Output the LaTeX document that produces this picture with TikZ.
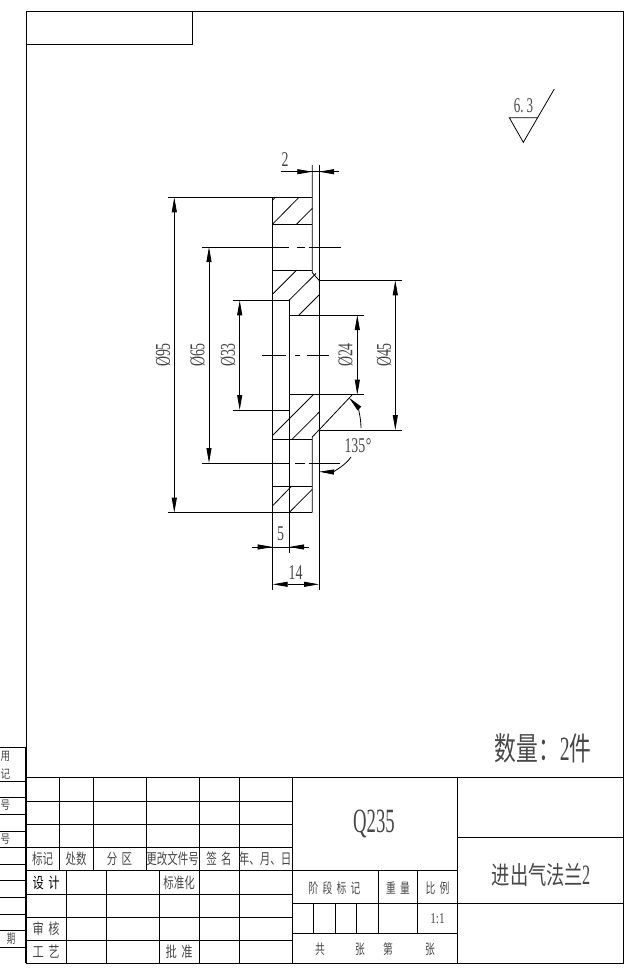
\documentclass[tikz,border=0pt]{standalone}
\usepackage{fontspec}
\usepackage{graphicx}
\setmainfont{Liberation Serif}
\newfontfamily\cjk{Noto Sans CJK SC}
\usetikzlibrary{arrows.meta}
\newcommand\lat[3]{{\fontsize{#1}{#1}\selectfont\scalebox{#2}[1]{#3}}}
\newcommand\han[3]{{\cjk\fontsize{#1}{#1}\selectfont\scalebox{#2}[1]{#3}}}
\tikzset{
  x=1pt,y=-1pt,
  every node/.style={inner sep=0pt,outer sep=0pt},
  ln/.style={line width=0.8pt,black},
  frm/.style={line width=0.9pt,black},
  soft/.style={text=black!72},
  tip/.style={-{Triangle[length=15pt,width=5pt]}},
  tips/.style={{Triangle[length=15pt,width=5pt]}-{Triangle[length=15pt,width=5pt]}},
}
\begin{document}
\begin{tikzpicture}[ln]
\useasboundingbox (0,0) rectangle (637,977);
% frame
\draw[frm] (26,11) rectangle (623.5,963);
\draw[frm] (26,44) -- (192,44) -- (192,11);
\draw[line width=1.3pt] (26,747) -- (26,963);
% side strip
\foreach \y in {747,781,797,814,831,847,864,880,897,914,930,947}
  \draw (0,\y) -- (26,\y);
\node[soft] (s1) at (5.5,756) {\han{12}{.8}{用}};
\node[soft] (s2) at (5.5,774) {\han{12}{.8}{记}};
\node[soft] (s3) at (5.5,805) {\han{12}{.8}{号}};
\node[soft] (s4) at (5.5,839) {\han{12}{.8}{号}};
\node[soft] (s5) at (11,939) {\han{13}{.65}{期}};
% title block left
\foreach \y in {777.7,801,824,847,870,894,917,940} \draw (26,\y) -- (292,\y);
\foreach \x in {59,93,146} \draw (\x,777.7) -- (\x,870);
\foreach \x in {66,106,159} \draw (\x,870) -- (\x,963);
\foreach \x in {199,239,292} \draw (\x,777.7) -- (\x,963);
\draw (292,777.7) -- (623.5,777.7);
\draw (457,777.7) -- (457,963);
\draw (292,870) -- (457,870) (292,903) -- (623.5,903) (292,933) -- (457,933);
\draw (457,837) -- (623.5,837);
\foreach \x in {378,417} \draw (\x,870) -- (\x,933);
\foreach \x in {313,335,356} \draw (\x,903) -- (\x,933);
% table text
\node[soft] (a1) at (42.5,859) {\han{15}{.7}{标记}};
\node[soft] (a2) at (76,859) {\han{15}{.7}{处数}};
\node[soft] (a3) at (119.5,859) {\han{15}{.7}{分\hspace{6pt}区}};
\node[soft] (a4) at (172.5,859) {\han{15}{.7}{更改文件号}};
\node[soft] (a5) at (219,859) {\han{15}{.7}{签\hspace{6pt}名}};
\node[soft] (a6) at (265,859) {\han{15}{.7}{年、月、日}};
\node (b1) at (46,883) {\han{15}{.75}{设\hspace{6pt}计}};
\node[soft] (b2) at (179,883) {\han{15}{.7}{标准化}};
\node[soft] (b3) at (46,929) {\han{15}{.75}{审\hspace{6pt}核}};
\node[soft] (b4) at (46,952) {\han{15}{.75}{工\hspace{6pt}艺}};
\node[soft] (b5) at (179,952) {\han{15}{.75}{批\hspace{6pt}准}};
\node[soft] (c1) at (334.5,888) {\han{14}{.7}{阶\hspace{6pt}段\hspace{6pt}标\hspace{6pt}记}};
\node[soft] (c2) at (398,888) {\han{14}{.7}{重\hspace{6pt}量}};
\node[soft] (c3) at (437.5,888) {\han{14}{.7}{比\hspace{6pt}例}};
\node[soft] (c4) at (437.5,919) {\lat{15}{.75}{1:1}};
\node[soft] (d1) at (320,949) {\han{14}{.7}{共}};
\node[soft] (d2) at (360,949) {\han{14}{.7}{张}};
\node[soft] (d3) at (388,949) {\han{14}{.7}{第}};
\node[soft] (d4) at (430,949) {\han{14}{.7}{张}};
\node[soft] (q) at (374,824) {\lat{34}{.55}{Q235}};
\node[soft] (nm) at (541,875) {\han{25}{.73}{进出气法兰}\hspace{-1pt}\lat{28}{.58}{2}};
\node[soft] (qty) at (543,748) {\han{32}{.68}{数量：}\lat{34}{.58}{2}\han{32}{.68}{件}};
% roughness
\draw (554.3,89) -- (523.3,142.3) -- (509.3,117.7) -- (537.7,117.7);
\node[soft] (r) at (523.5,106) {\lat{21}{.62}{6.\hspace{5pt}3}};
% part outline
\draw (167.7,197.3) -- (312.3,197.3);
\draw (167.7,512.7) -- (312.3,512.7);
\draw (272.7,197.3) -- (272.7,590);
\draw (289,300.3) -- (289,553);
\draw (312.3,165) -- (312.3,272.7) -- (319,280.3);
\draw (319,165) -- (319,590);
\draw (319,430) -- (312.3,437) -- (312.3,512.7);
\draw (289,300.3) -- (316,273.5);
% hole lines
\foreach \y in {224,270,439.7,486} \draw (272.7,\y) -- (312.3,\y);
% hatch
\draw (272.7,224) -- (299,197.3);
\draw (272.7,200) -- (275.3,197.3);
\draw (296.7,224) -- (312.3,208.3);
\draw (272.7,294) -- (296.7,270);
\draw (299,315) -- (319,295);
\draw (272.7,435.3) -- (313.3,394.7);
\draw (291.7,439.7) -- (319,412.3);
\draw (272.7,505.7) -- (291.7,486);
\draw (289,512.7) -- (312.3,489.3);
% extension lines
\draw (232.7,300.3) -- (289,300.3);
\draw (232.7,410) -- (289,410);
\draw (289,315) -- (364,315);
\draw (289,394.7) -- (364,394.7);
\draw (319,280.3) -- (402,280.3);
\draw (319,430) -- (402,430);
\draw (319,430) -- (352,395);
% centre lines
\draw (202,247) -- (289,247) (296.7,247) -- (305,247) (309,247) -- (341,247);
\draw (202,463) -- (289,463) (295,463) -- (305,463) (309,463) -- (340,463);
\draw (262,355) -- (286,355) (295,355) -- (300,355) (307,355) -- (329,355);
% dimensions
\draw[tips] (174.3,197.3) -- (174.3,512.7);
\draw[tips] (209,247) -- (209,463);
\draw[tips] (239.7,300.3) -- (239.7,410);
\draw[tips] (357.3,315) -- (357.3,394.7);
\draw[tips] (395.3,280.3) -- (395.3,430);
\draw[tips] (272.7,584.3) -- (319,584.3);
\draw (252.3,547) -- (309.3,547);
\draw[tip] (252.3,547) -- (272.7,547);
\draw[tip] (309.3,547) -- (289,547);
\draw (281,171.7) -- (339,171.7);
\draw[tip] (290,171.7) -- (312.3,171.7);
\draw[tip] (339,171.7) -- (319,171.7);
\draw[tip] (361,428) .. controls (361,416) and (357,406) .. (349,397.7);
\draw[tip] (351,457) .. controls (345,466) and (332,472) .. (319,471.7);
% dimension text
\node[soft,rotate=90] (d95) at (163,355) {\lat{21}{.66}{Ø95}};
\node[soft,rotate=90] (d65) at (197.5,355) {\lat{21}{.66}{Ø65}};
\node[soft,rotate=90] (d33) at (228,355) {\lat{21}{.66}{Ø33}};
\node[soft,rotate=90] (d24) at (345.5,355) {\lat{21}{.66}{Ø24}};
\node[soft,rotate=90] (d45) at (384,355) {\lat{21}{.66}{Ø45}};
\node[soft] (t2) at (285,160) {\lat{21}{.66}{2}};
\node[soft] (t5) at (280.7,534) {\lat{21}{.66}{5}};
\node[soft] (t14) at (295.5,572.7) {\lat{21}{.66}{14}};
\node[soft] (t135) at (358,446) {\lat{21}{.66}{135\hspace{1pt}°}};
\end{tikzpicture}
\end{document}
